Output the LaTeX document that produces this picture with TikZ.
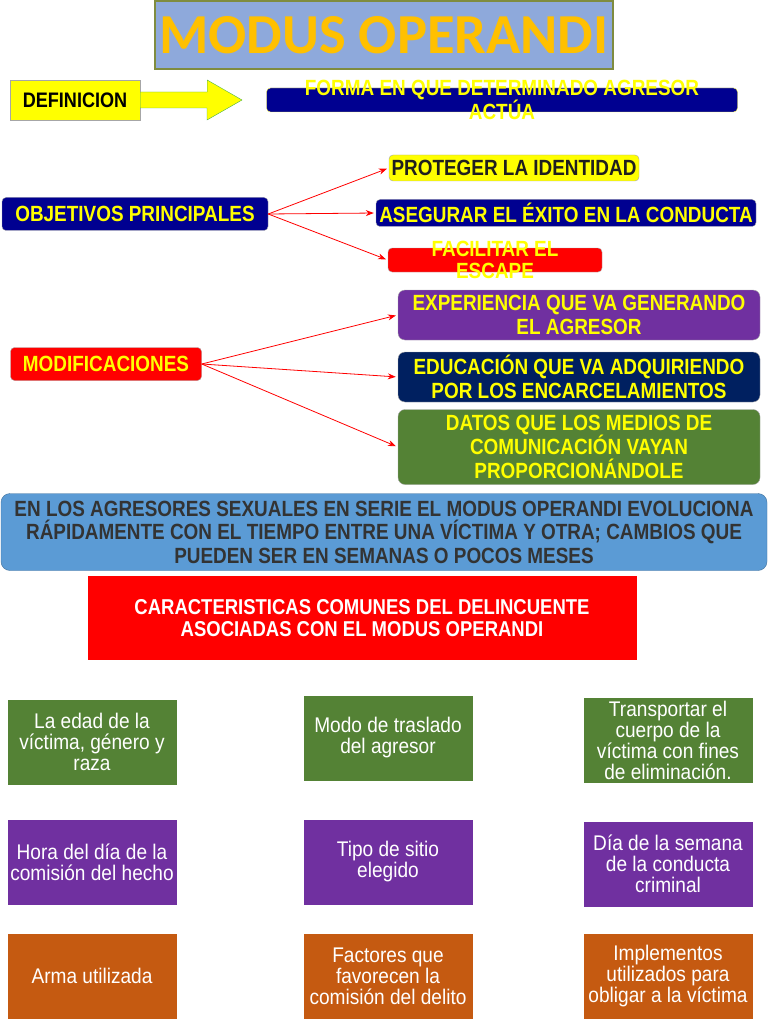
\documentclass[tikz,border=0pt]{standalone}
\usepackage{fontspec}
\setmainfont{Liberation Sans}
\newfontfamily\hfont[FakeStretch=0.86]{Liberation Sans}
\newfontfamily\cfont[FakeStretch=0.9]{Liberation Sans}
\newfontfamily\tfont{Carlito}
\usetikzlibrary{arrows.meta}

\definecolor{azultit}{HTML}{8EA9DB}
\definecolor{oliva}{HTML}{7F8C3F}
\definecolor{oro}{HTML}{FFC000}
\definecolor{amarillo}{HTML}{FFFF00}
\definecolor{marino}{HTML}{000090}
\definecolor{marino2}{HTML}{002060}
\definecolor{morado}{HTML}{7030A0}
\definecolor{verde}{HTML}{548235}
\definecolor{naranja}{HTML}{C55A11}
\definecolor{celeste}{HTML}{5B9BD5}
\definecolor{bordeazul}{HTML}{41719C}
\definecolor{gris}{HTML}{333333}

\tikzset{
  caja/.style={draw=gray!70, rounded corners=4pt, inner sep=0pt, align=center,
    text=amarillo, font=\hfont\bfseries\fontsize{22}{24}\selectfont},
  letras/.style={inner sep=0pt, align=center, text=amarillo,
    font=\hfont\bfseries\fontsize{22}{22}\selectfont},
  tarjeta/.style={minimum width=169pt, minimum height=85pt, inner sep=0pt,
    align=center, text=white, font=\cfont\fontsize{21.2}{21}\selectfont},
  flecha/.style={draw=red, line width=0.8pt, -{Stealth[length=8pt,width=6pt]}, shorten >=2pt}
}

\begin{document}
\begin{tikzpicture}[x=1pt,y=-1pt]
  \useasboundingbox (0,0) rectangle (768,1024);

  % titulo
  \node[draw=oliva, line width=1.5pt, fill=azultit, minimum width=458pt, minimum height=68pt,
        inner sep=0pt, text=oro, font=\tfont\bfseries\fontsize{56.5}{60}\selectfont]
        (titulo) at (384,35) {MODUS OPERANDI};

  % definicion
  \node[caja, rounded corners=0pt, fill=amarillo, text=black, minimum width=130pt, minimum height=40pt,
        font=\hfont\bfseries\fontsize{21}{22}\selectfont] (def) at (75,100) {DEFINICION};
  \draw[draw=gray!60!green, fill=amarillo] (def.east) ++(0,-8) -- ++(67,0) -- ++(0,-12)
        -- (242,100) -- (207,120) -- (207,108) -- (def.east |- 0,108) -- cycle;
  \node[caja, fill=marino, draw=amarillo!70, minimum width=471pt, minimum height=24pt] (forma) at (502,100) {};
  \node[letras] (forma-txt) at (forma) {FORMA EN QUE DETERMINADO AGRESOR\\ACTÚA};

  % objetivos
  \node[caja, fill=marino, minimum width=266pt, minimum height=33pt] (obj) at (135,214) {OBJETIVOS PRINCIPALES};
  \node[caja, fill=amarillo, text=gris!60!black, minimum width=250pt, minimum height=26pt] (prot) at (514,168) {PROTEGER LA IDENTIDAD};
  \node[caja, fill=marino, minimum width=380pt, minimum height=27pt] (aseg) at (566,213) {ASEGURAR EL ÉXITO EN LA CONDUCTA};
  \node[caja, fill=red, minimum width=214pt, minimum height=24pt] (facil) at (495,260) {};
  \node[letras] (facil-txt) at (facil) {FACILITAR EL\\ESCAPE};
  \draw[flecha] (obj.east) -- (prot.west);
  \draw[flecha] (obj.east) -- (aseg.west);
  \draw[flecha] (obj.east) -- (facil.west);

  % modificaciones
  \node[caja, fill=red, minimum width=191pt, minimum height=33pt] (modif) at (106,364) {MODIFICACIONES};
  \node[caja, fill=morado, rounded corners=7pt, minimum width=362pt, minimum height=50pt] (exper) at (579,315)
        {EXPERIENCIA QUE VA GENERANDO\\EL AGRESOR};
  \node[caja, fill=marino2, rounded corners=7pt, minimum width=362pt, minimum height=50pt] (educ) at (579,377)
        {EDUCACIÓN QUE VA ADQUIRIENDO\\POR LOS ENCARCELAMIENTOS};
  \node[caja, fill=verde, rounded corners=7pt, minimum width=362pt, minimum height=75pt] (datos) at (579,447)
        {DATOS QUE LOS MEDIOS DE\\COMUNICACIÓN VAYAN\\PROPORCIONÁNDOLE};
  \draw[flecha] (modif.east) -- (exper.west);
  \draw[flecha] (modif.east) -- (educ.west);
  \draw[flecha] (modif.east) -- (datos.west);

  % serie y caracteristicas
  \node[caja, fill=celeste, draw=bordeazul, rounded corners=9pt, text=gris, minimum width=766pt, minimum height=77pt,
        font=\hfont\bfseries\fontsize{22}{23.5}\selectfont] (serie) at (384,532)
        {EN LOS AGRESORES SEXUALES EN SERIE EL MODUS OPERANDI EVOLUCIONA\\
         RÁPIDAMENTE CON EL TIEMPO ENTRE UNA VÍCTIMA Y OTRA; CAMBIOS QUE\\
         PUEDEN SER EN SEMANAS O POCOS MESES};
  \node[caja, draw=none, rounded corners=0pt, fill=red, text=white, minimum width=549pt, minimum height=84pt,
        font=\hfont\bfseries\fontsize{21.5}{22}\selectfont] (caract) at (362,618)
        {CARACTERISTICAS COMUNES DEL DELINCUENTE\\ASOCIADAS CON EL MODUS OPERANDI};

  % tarjetas
  \node[tarjeta, fill=verde] (c11) at (92,742) {La edad de la\\víctima, género y\\raza};
  \node[tarjeta, fill=verde] (c12) at (388,738) {Modo de traslado\\del agresor};
  \node[tarjeta, fill=verde] (c13) at (668,740) {Transportar el\\cuerpo de la\\víctima con fines\\de eliminación.};
  \node[tarjeta, fill=morado] (c21) at (92,862) {Hora del día de la\\comisión del hecho};
  \node[tarjeta, fill=morado] (c22) at (388,862) {Tipo de sitio\\elegido};
  \node[tarjeta, fill=morado] (c23) at (668,864) {Día de la semana\\de la conducta\\criminal};
  \node[tarjeta, fill=naranja] (c31) at (92,976) {Arma utilizada};
  \node[tarjeta, fill=naranja] (c32) at (388,976) {Factores que\\favorecen la\\comisión del delito};
  \node[tarjeta, fill=naranja] (c33) at (668,976) {Implementos\\utilizados para\\obligar a la víctima};
\end{tikzpicture}
\end{document}
